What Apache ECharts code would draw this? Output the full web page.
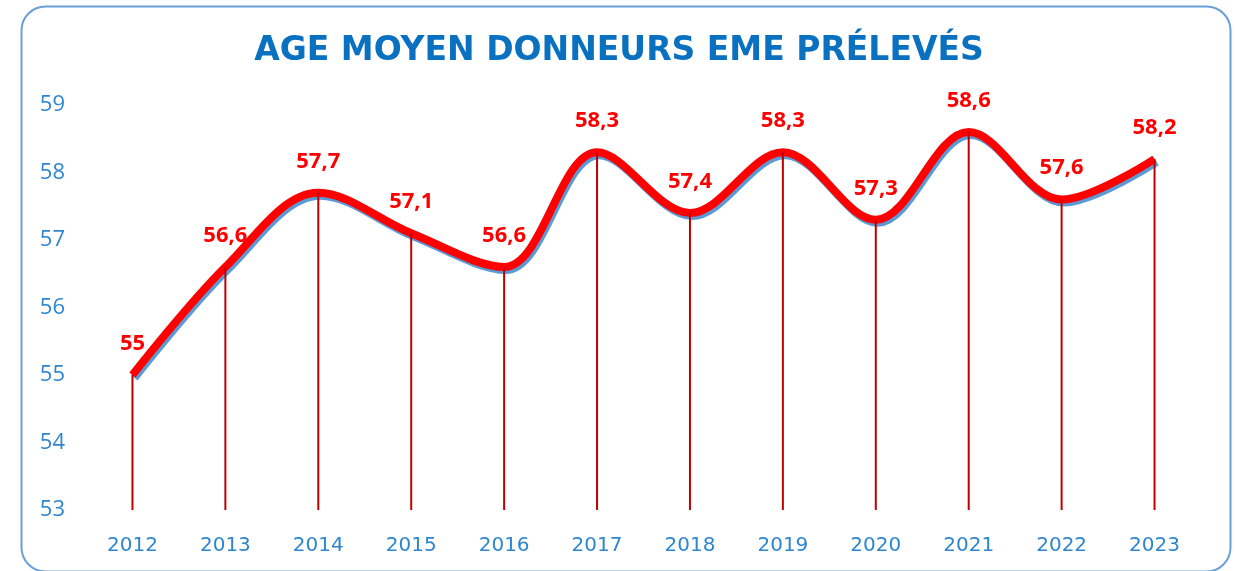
<!DOCTYPE html>
<html><head><meta charset="utf-8">
<script src="https://cdn.jsdelivr.net/npm/echarts@6/dist/echarts.min.js"></script>
<style>html,body{margin:0;padding:0;background:#fff}#c{width:1238px;height:571px}</style>
</head><body><div id="c"></div>
<script>
const categories = ['2012','2013','2014','2015','2016','2017','2018','2019','2020','2021','2022','2023'];
const values = [55, 56.6, 57.7, 57.1, 56.6, 58.3, 57.4, 58.3, 57.3, 58.6, 57.6, 58.2];
const yTicks = [53, 54, 55, 56, 57, 58, 59];
const chart = echarts.init(document.getElementById('c'));
chart.setOption({
  animation: false,
  backgroundColor: '#fff',
  graphic: [{
    type: 'rect', left: 19, top: 4,
    shape: {width: 1209, height: 565, r: 24},
    style: {fill: 'none', stroke: '#6a9fd8', lineWidth: 2}
  }],
  title: {
    text: 'AGE MOYEN DONNEURS EME PRÉLEVÉS',
    left: 'center', top: 30,
    textStyle: {color: '#0a70c0', fontFamily: 'DejaVu Sans', fontWeight: 'bold', fontSize: 33}
  },
  grid: {left: 86, right: 37, top: 105, bottom: 61},
  xAxis: {
    type: 'category', data: categories, boundaryGap: true,
    axisLine: {show: false}, axisTick: {show: false},
    axisLabel: {color: '#2e86d0', fontFamily: 'DejaVu Sans', fontSize: 20, margin: 26}
  },
  yAxis: {
    type: 'value', min: yTicks[0], max: yTicks[yTicks.length - 1], interval: 1,
    splitLine: {show: false}, axisLine: {show: false}, axisTick: {show: false},
    axisLabel: {color: '#2e86d0', fontFamily: 'Open Sans', fontSize: 22, margin: 21}
  },
  series: [{
    type: 'bar', data: values, barWidth: 2, silent: true,
    itemStyle: {color: '#c00000'}, z: 5
  }, {
    type: 'line', data: values, smooth: 0.35, symbol: 'circle', symbolSize: 1, showSymbol: true, z: 3,
    itemStyle: {color: 'rgba(0,0,0,0)'},
    lineStyle: {color: '#ff0000', width: 8, shadowColor: '#5b9bd5', shadowOffsetX: 2, shadowOffsetY: 3, shadowBlur: 0},
    label: {
      show: true, position: 'top', distance: 20, color: '#ff0000', fontFamily: 'Open Sans', fontWeight: 'bold', fontSize: 22,
      formatter: p => String(p.value).replace('.', ',')
    }
  }]
});
</script></body></html>
